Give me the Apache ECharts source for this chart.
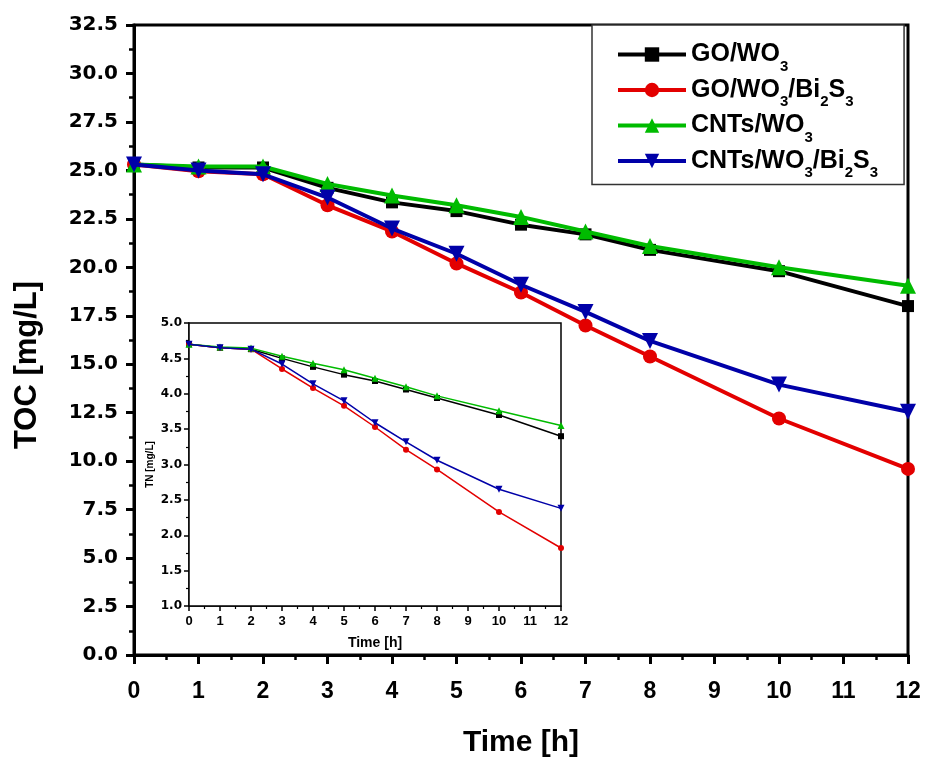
<!DOCTYPE html>
<html><head><meta charset="utf-8">
<script src="https://cdn.jsdelivr.net/npm/echarts@6/dist/echarts.min.js"></script>
<style>html,body{margin:0;padding:0;background:#fff}#c{width:927px;height:757px}</style>
</head><body><div id="c"></div>
<script>
// ---- data ----
const timeH = [0, 1, 2, 3, 4, 5, 6, 7, 8, 10, 12];
const seriesNames = ['GO/WO3', 'GO/WO3/Bi2S3', 'CNTs/WO3', 'CNTs/WO3/Bi2S3'];
const legendLabels = [
  '{a|GO/WO}{b|3}',
  '{a|GO/WO}{b|3}{a|/Bi}{b|2}{a|S}{b|3}',
  '{a|CNTs/WO}{b|3}',
  '{a|CNTs/WO}{b|3}{a|/Bi}{b|2}{a|S}{b|3}'
];
// main chart: TOC [mg/L]
const tocGOWO3        = [25.3, 25.15, 25.15, 24.1, 23.35, 22.9, 22.2, 21.7, 20.9, 19.8, 18.0];
const tocGOWO3Bi2S3   = [25.3, 24.95, 24.8, 23.2, 21.85, 20.2, 18.7, 17.0, 15.4, 12.2, 9.6];
const tocCNTsWO3      = [25.3, 25.2, 25.2, 24.3, 23.7, 23.2, 22.6, 21.85, 21.1, 20.0, 19.05];
const tocCNTsWO3Bi2S3 = [25.3, 25.0, 24.8, 23.6, 22.0, 20.7, 19.1, 17.7, 16.2, 13.95, 12.55];
// inset: TN [mg/L]
const tnGOWO3        = [4.70, 4.65, 4.63, 4.50, 4.38, 4.27, 4.18, 4.06, 3.94, 3.70, 3.40];
const tnGOWO3Bi2S3   = [4.70, 4.65, 4.63, 4.35, 4.08, 3.83, 3.53, 3.21, 2.93, 2.33, 1.82];
const tnCNTsWO3      = [4.70, 4.66, 4.645, 4.53, 4.43, 4.34, 4.22, 4.10, 3.97, 3.76, 3.55];
const tnCNTsWO3Bi2S3 = [4.70, 4.65, 4.63, 4.42, 4.14, 3.90, 3.59, 3.32, 3.06, 2.65, 2.38];

const tocData = [tocGOWO3, tocGOWO3Bi2S3, tocCNTsWO3, tocCNTsWO3Bi2S3];
const tnData = [tnGOWO3, tnGOWO3Bi2S3, tnCNTsWO3, tnCNTsWO3Bi2S3];

// ---- styles ----
const colors = ['#000000', '#e30000', '#00bb00', '#0000a8'];
const symbols = ['rect', 'circle', 'triangle', 'triangle'];
const rotations = [0, 0, 0, 180];
const mainSizes = [12, 14, 16, 16];
const insetSizes = [6, 6, 7, 7];
const F = 'Liberation Sans, Arial, sans-serif';
const FW = 'DejaVu Sans, Liberation Sans, sans-serif';

const pairs = (xs, ys) => xs.map((x, i) => [x, ys[i]]);

const series = [];
tocData.forEach((d, i) => series.push({
  name: seriesNames[i], type: 'line', xAxisIndex: 0, yAxisIndex: 0,
  data: pairs(timeH, d), symbol: symbols[i], symbolRotate: rotations[i],
  symbolSize: mainSizes[i], showAllSymbol: true, clip: false,
  lineStyle: { color: colors[i], width: 4 }, itemStyle: { color: colors[i] },
  z: 3 + i
}));
tnData.forEach((d, i) => series.push({
  name: seriesNames[i], type: 'line', xAxisIndex: 1, yAxisIndex: 1,
  data: pairs(timeH, d), symbol: symbols[i], symbolRotate: rotations[i],
  symbolSize: insetSizes[i], showAllSymbol: true, clip: false,
  lineStyle: { color: colors[i], width: 1.5 }, itemStyle: { color: colors[i] },
  z: 13 + i
}));

const chart = echarts.init(document.getElementById('c'), null, { renderer: 'canvas' });
chart.setOption({
  animation: false,
  backgroundColor: '#fff',
  grid: [
    { left: 134, top: 25, right: 19, bottom: 102, show: true, borderColor: '#000', borderWidth: 3, backgroundColor: '#fff', z: 0, containLabel: false, outerBoundsMode: 'none' },
    { left: 189, top: 323, right: 366, bottom: 151, show: true, borderColor: '#000', borderWidth: 1.5, backgroundColor: '#fff', z: 10, containLabel: false, outerBoundsMode: 'none' }
  ],
  legend: {
    orient: 'vertical', left: 592, top: 25,
    data: seriesNames,
    itemWidth: 68, itemHeight: 18, itemGap: -3.5,
    padding: [10, 26, 4, 24],
    borderColor: '#333', borderWidth: 1.5, backgroundColor: '#fff',
    selectedMode: false,
    lineStyle: { width: 4 },
    formatter: n => legendLabels[seriesNames.indexOf(n)],
    textStyle: {
      color: '#000',
      rich: {
        a: { fontFamily: F, fontWeight: 'bold', fontSize: 25, lineHeight: 30, color: '#000' },
        b: { fontFamily: F, fontWeight: 'bold', fontSize: 15, lineHeight: 15, padding: [24, 0, 0, 0], color: '#000' }
      }
    },
    z: 20
  },
  xAxis: [
    {
      type: 'value', gridIndex: 0, min: 0, max: 12, interval: 1,
      axisLine: { show: true, lineStyle: { color: '#000', width: 3 } },
      axisTick: { show: true, length: 9, lineStyle: { color: '#000', width: 3 } },
      minorTick: { show: true, splitNumber: 2, length: 5, lineStyle: { color: '#000', width: 2.5 } },
      splitLine: { show: false },
      axisLabel: { fontFamily: F, fontWeight: 'bold', fontSize: 23, color: '#000', margin: 25, showMinLabel: true, showMaxLabel: true },
      name: 'Time [h]', nameLocation: 'middle', nameGap: 73,
      nameTextStyle: { fontFamily: F, fontWeight: 'bold', fontSize: 30, color: '#000' }
    },
    {
      type: 'value', gridIndex: 1, min: 0, max: 12, interval: 1,
      axisLine: { show: true, lineStyle: { color: '#000', width: 1.5 } },
      axisTick: { show: true, length: 5, lineStyle: { color: '#000', width: 1.5 } },
      minorTick: { show: true, splitNumber: 2, length: 3, lineStyle: { color: '#000', width: 1.2 } },
      splitLine: { show: false },
      axisLabel: { fontFamily: F, fontWeight: 'bold', fontSize: 13, color: '#000', margin: 9, showMinLabel: true, showMaxLabel: true },
      name: 'Time [h]', nameLocation: 'middle', nameGap: 30,
      nameTextStyle: { fontFamily: F, fontWeight: 'bold', fontSize: 14, color: '#000' }
    }
  ],
  yAxis: [
    {
      type: 'value', gridIndex: 0, min: 0, max: 32.5, interval: 2.5,
      axisLine: { show: true, lineStyle: { color: '#000', width: 3 } },
      axisTick: { show: true, length: 8, lineStyle: { color: '#000', width: 3 } },
      minorTick: { show: true, splitNumber: 2, length: 5, lineStyle: { color: '#000', width: 2.5 } },
      splitLine: { show: false },
      axisLabel: { fontFamily: FW, fontWeight: 'bold', fontSize: 20, color: '#000', margin: 16, formatter: v => v.toFixed(1), showMinLabel: true, showMaxLabel: true },
      name: 'TOC [mg/L]', nameLocation: 'middle', nameGap: 91,
      nameTextStyle: { fontFamily: F, fontWeight: 'bold', fontSize: 31, color: '#000', padding: [0, 50, 0, 0] }
    },
    {
      type: 'value', gridIndex: 1, min: 1, max: 5, interval: 0.5,
      axisLine: { show: true, lineStyle: { color: '#000', width: 1.5 } },
      axisTick: { show: true, length: 5, lineStyle: { color: '#000', width: 1.5 } },
      minorTick: { show: true, splitNumber: 2, length: 3, lineStyle: { color: '#000', width: 1.2 } },
      splitLine: { show: false },
      axisLabel: { fontFamily: FW, fontWeight: 'bold', fontSize: 12, color: '#000', margin: 7, formatter: v => v.toFixed(1), showMinLabel: true, showMaxLabel: true },
      name: 'TN [mg/L]', nameLocation: 'middle', nameGap: 34,
      nameTextStyle: { fontFamily: F, fontWeight: 'bold', fontSize: 10, color: '#000' }
    }
  ],
  series: series
});
</script>
</body></html>
